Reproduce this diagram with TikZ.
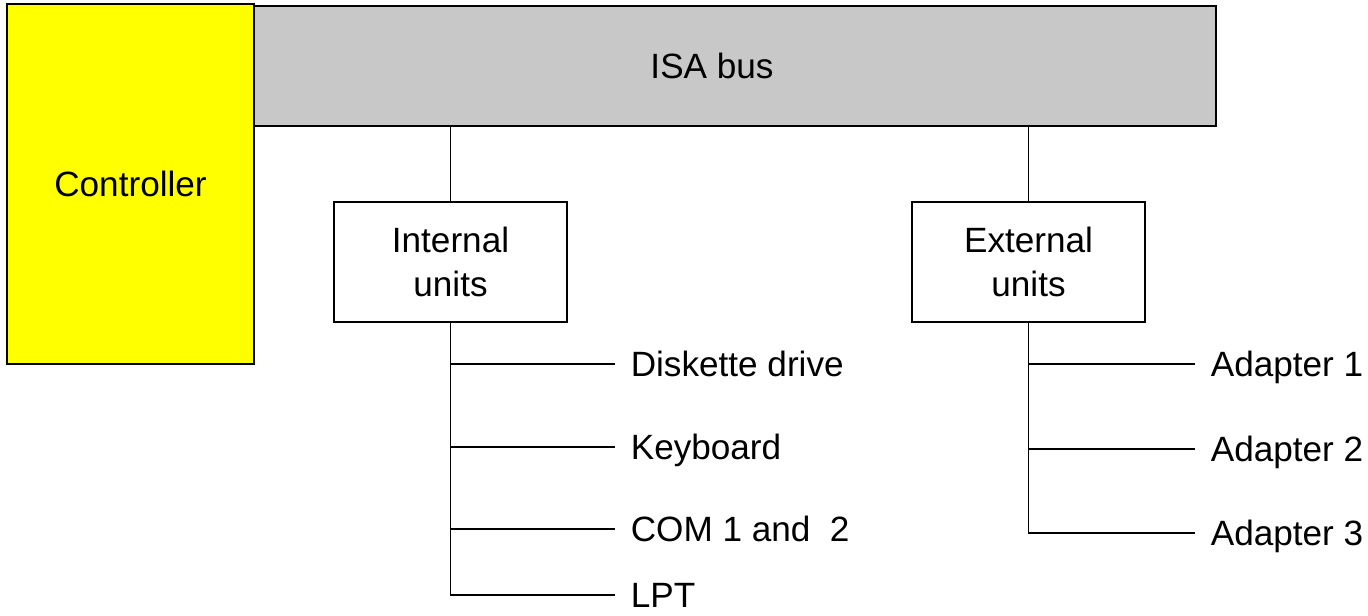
\documentclass[tikz,border=0pt]{standalone}
\usepackage{fontspec}
\setmainfont{Liberation Sans}
\usetikzlibrary{calc}
\definecolor{busgray}{RGB}{200,200,200}
\definecolor{ctrlyellow}{RGB}{255,255,0}
\tikzset{
	bigbox/.style={draw, line width=1.3pt},
	unitbox/.style={draw, line width=0.9pt, minimum width=4.66cm, minimum height=2.4cm, align=center},
	leaf/.style={anchor=west, inner xsep=9pt, inner ysep=0pt, outer sep=0pt, text height=14.3pt, text depth=0pt},
	wire/.style={line width=0.9pt},
}
\begin{document}
\begin{tikzpicture}[x=0.02cm, y=-0.02cm, font=\fontsize{20}{25}\selectfont]
			%%%%% START %%%%%
			\useasboundingbox (0,0) rectangle (1368,615);
			
			\node[bigbox, fill=ctrlyellow, minimum width=4.94cm, minimum height=7.2cm] (ctrl) at (130.5,184) {Controller};
			\node[bigbox, fill=busgray, minimum width=19.24cm, minimum height=2.4cm,
				label={[xshift=-0.46cm]center:ISA bus}] (bus) at (735,66) {};
			
			\node[unitbox] (intu) at (450.5,262) {Internal\\units};
			\node[unitbox] (extu) at (1028.5,262) {External\\units};
			
			\draw[wire] (bus.south -| intu.north) -- (intu.north);
			\draw[wire] (bus.south -| extu.north) -- (extu.north);
			
			% internal units
			\node[leaf] (disk) at (615,364) {Diskette drive};
			\node[leaf] (kbd) at (615,447) {Keyboard};
			\node[leaf] (com) at (615,529) {COM 1 and~ 2};
			\node[leaf] (lpt) at (615,595) {LPT};
			\draw[wire] (intu.south) |- (lpt.west);
			\draw[wire] (intu.south |- disk.west) -- (disk.west);
			\draw[wire] (intu.south |- kbd.west) -- (kbd.west);
			\draw[wire] (intu.south |- com.west) -- (com.west);
			
			% external units
			\node[leaf] (ad1) at (1195,364) {Adapter 1};
			\node[leaf] (ad2) at (1195,449) {Adapter 2};
			\node[leaf] (ad3) at (1195,533) {Adapter 3};
			\draw[wire] (extu.south) |- (ad3.west);
			\draw[wire] (extu.south |- ad1.west) -- (ad1.west);
			\draw[wire] (extu.south |- ad2.west) -- (ad2.west);
			%%%%% END %%%%%
\end{tikzpicture}
\end{document}
